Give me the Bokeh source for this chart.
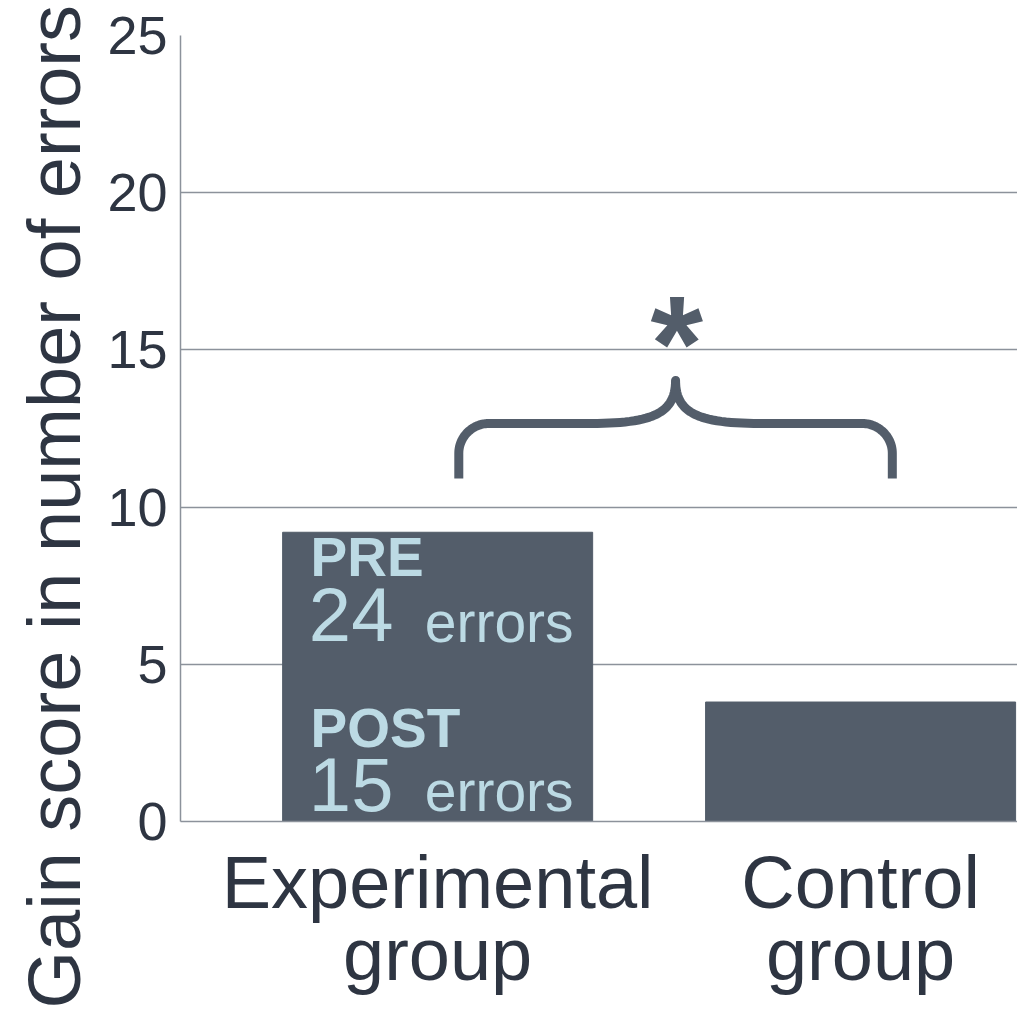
import numpy as np
from bokeh.plotting import figure
from bokeh.models import Range1d, FixedTicker, LinearAxis, Title, Grid
from bokeh.core.properties import value
from bokeh.embed import file_html
from bokeh.resources import INLINE

# ---- data ----
categories = ["Experimental\ngroup", "Control\ngroup"]
gain_scores = [9.2, 3.8]
y_ticks = [0, 5, 10, 15, 20, 25]
pre_label = ["PRE", "24", "errors"]
post_label = ["POST", "15", "errors"]
significance = "*"
y_title = "Gain score in number of errors"

DARK = "#2e3542"
BAR = "#535d6a"
LIGHT = "#bcdae4"
GRID = "#8c929b"
FONT = "Liberation Sans"

xpos = [i + 1 for i in range(len(categories))]
bar_w = 0.733
YPX = 786 / 25.0  # pixels per data unit (for baseline correction)

p = figure(width=1017, height=1009, output_backend="svg", toolbar_location=None,
           x_range=Range1d(0.392, 2.371), y_range=Range1d(0, 25.0),
           x_axis_type=None, y_axis_type=None,
           min_border_left=180, min_border_right=0, min_border_top=35, min_border_bottom=188)
p.outline_line_color = None
p.background_fill_color = "white"
p.border_fill_color = "white"

# y axis
yax = LinearAxis(ticker=FixedTicker(ticks=y_ticks))
yax.axis_line_color = GRID
yax.axis_line_width = 1.5
yax.major_tick_out = 0
yax.major_tick_in = 0
yax.minor_tick_out = 0
yax.minor_tick_in = 0
yax.major_label_text_font = FONT
yax.major_label_text_font_size = "54px"
yax.major_label_text_color = DARK
yax.major_label_standoff = 13
p.add_layout(yax, "left")

# y title
p.add_layout(Title(text=y_title, align="left", offset=-187, standoff=18,
                   text_font=FONT, text_font_size="74px", text_font_style="normal",
                   text_color=DARK), "left")

# x axis
xax = LinearAxis(ticker=FixedTicker(ticks=xpos))
xax.major_label_overrides = {x: c for x, c in zip(xpos, categories)}
xax.axis_line_color = GRID
xax.axis_line_width = 1.5
xax.major_tick_out = 0
xax.major_tick_in = 0
xax.minor_tick_out = 0
xax.minor_tick_in = 0
xax.major_label_text_font = FONT
xax.major_label_text_font_size = "74px"
xax.major_label_text_color = DARK
xax.major_label_text_line_height = 0.87
xax.major_label_standoff = 19
p.add_layout(xax, "below")

# grid
g = Grid(dimension=1, ticker=FixedTicker(ticks=y_ticks[1:]))
g.grid_line_color = GRID
g.grid_line_width = 1.5
p.add_layout(g)

# bars
p.vbar(x=xpos, top=gain_scores, width=bar_w, bottom=0, fill_color=BAR, line_color=BAR)


def base(y, fs):
    # place the alphabetic baseline at data value y
    return y + 0.37 * fs / YPX


# text inside experimental bar
bl = xpos[0] - bar_w / 2
tx = bl + 0.066
for lab, yb1, yb2 in [(pre_label, 7.76, 5.69), (post_label, 2.32, 0.29)]:
    p.text(x=[tx], y=[base(yb1, 55)], text=[lab[0]], text_font=value(FONT), text_font_style="bold",
           text_font_size="55px", text_color=LIGHT, text_baseline="alphabetic")
    p.text(x=[tx - 0.004], y=[base(yb2, 76)], text=[lab[1]], text_font=value(FONT),
           text_font_size="76px", text_color=LIGHT, text_baseline="alphabetic")
    p.text(x=[tx + 0.27], y=[base(yb2, 57)], text=[lab[2]], text_font=value(FONT),
           text_font_size="57px", text_color=LIGHT, text_baseline="alphabetic")

# brace
x0, x1 = xpos[0] + 0.05, xpos[1] + 0.075
xm = (x0 + x1) / 2
yb, yh, yt = 10.91, 12.66, 14.03
rx, ry = 0.071, 0.95


def cubic(p0, p1, p2, p3, n=30):
    t = np.linspace(0, 1, n)[:, None]
    return ((1 - t) ** 3) * np.array(p0) + 3 * ((1 - t) ** 2) * t * np.array(p1) \
        + 3 * (1 - t) * t ** 2 * np.array(p2) + t ** 3 * np.array(p3)


k = 0.55
left = [np.array([[x0, yb], [x0, yh - ry]]),
        cubic((x0, yh - ry), (x0, yh - ry + k * ry), (x0 + rx - k * rx, yh), (x0 + rx, yh)),
        np.array([[xm - 0.2, yh]]),
        cubic((xm - 0.2, yh), (xm - 0.05, yh), (xm, yh + 0.35), (xm, yt))]
lp = np.vstack(left)
rp = lp[::-1].copy()
rp[:, 0] = xm + (xm - rp[:, 0]) * (x1 - xm) / (xm - x0)
brace = np.vstack([lp, rp])
p.line(x=brace[:, 0], y=brace[:, 1], line_color=BAR, line_width=9, line_join="round", line_cap="butt")

p.text(x=[xm + 0.003], y=[base(13.62, 135)], text=[significance], text_font=value(FONT), text_font_style="bold",
       text_font_size="135px", text_color=BAR, text_align="center", text_baseline="alphabetic")

open("out.html", "w").write(file_html(p, INLINE))
